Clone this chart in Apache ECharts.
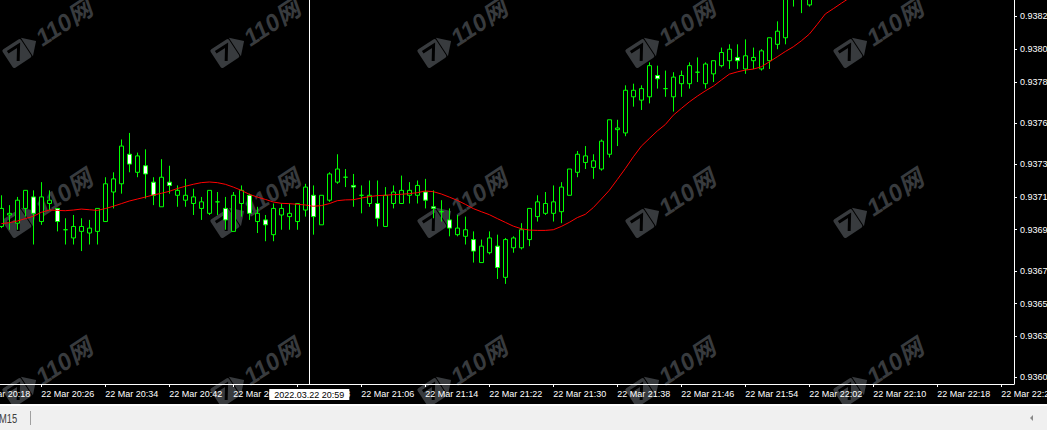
<!DOCTYPE html>
<html>
<head>
<meta charset="utf-8">
<script src="https://cdn.jsdelivr.net/npm/echarts@6/dist/echarts.min.js"></script>
<style>
html,body{margin:0;padding:0;background:#000;overflow:hidden}
#c{width:1047px;height:430px}
</style>
</head>
<body>
<div id="c"></div>
<script>
// ---- data (1-minute candles starting 22 Mar 20:21) ----
// each candle: [open, close, low, high]
const candles = [
[0.93692,0.93703,0.93691,0.93711],[0.93699,0.93700,0.93690,0.93705],[0.93694,0.93708,0.93690,0.93710],
[0.93703,0.93714,0.93698,0.93714],[0.93710,0.93700,0.93681,0.93714],[0.93695,0.93710,0.93693,0.93719],
[0.93706,0.93708,0.93702,0.93714],[0.93703,0.93695,0.93689,0.93703],[0.93690,0.93690,0.93681,0.93697],
[0.93685,0.93692,0.93681,0.93699],[0.93689,0.93692,0.93677,0.93697],[0.93688,0.93691,0.93681,0.93696],
[0.93689,0.93703,0.93681,0.93703],[0.93695,0.93718,0.93695,0.93722],[0.93713,0.93721,0.93703,0.93725],
[0.93718,0.93741,0.93712,0.93745],[0.93736,0.93730,0.93725,0.93749],[0.93725,0.93735,0.93722,0.93737],
[0.93729,0.93724,0.93709,0.93739],[0.93719,0.93711,0.93705,0.93722],[0.93704,0.93722,0.93704,0.93733],
[0.93719,0.93717,0.93712,0.93729],[0.93711,0.93714,0.93704,0.93717],[0.93708,0.93711,0.93704,0.93721],
[0.93706,0.93710,0.93699,0.93715],[0.93703,0.93707,0.93696,0.93710],[0.93700,0.93714,0.93699,0.93714],
[0.93707,0.93707,0.93699,0.93713],[0.93703,0.93696,0.93690,0.93710],[0.93689,0.93711,0.93689,0.93713],
[0.93706,0.93714,0.93698,0.93717],[0.93711,0.93700,0.93696,0.93712],[0.93695,0.93700,0.93688,0.93704],
[0.93696,0.93693,0.93683,0.93699],[0.93687,0.93703,0.93683,0.93706],[0.93699,0.93703,0.93690,0.93706],
[0.93698,0.93700,0.93690,0.93706],[0.93695,0.93706,0.93690,0.93706],[0.93702,0.93716,0.93698,0.93718],
[0.93711,0.93698,0.93687,0.93717],[0.93693,0.93711,0.93693,0.93711],[0.93708,0.93724,0.93707,0.93725],
[0.93719,0.93727,0.93718,0.93736],[0.93722,0.93722,0.93716,0.93727],[0.93717,0.93716,0.93704,0.93724],
[0.93711,0.93711,0.93700,0.93717],[0.93706,0.93711,0.93704,0.93720],[0.93706,0.93697,0.93692,0.93720],
[0.93692,0.93711,0.93692,0.93716],[0.93706,0.93713,0.93703,0.93717],[0.93706,0.93714,0.93706,0.93723],
[0.93711,0.93714,0.93706,0.93719],[0.93711,0.93717,0.93706,0.93720],[0.93713,0.93708,0.93703,0.93721],
[0.93704,0.93703,0.93697,0.93714],[0.93701,0.93701,0.93695,0.93708],[0.93696,0.93691,0.93686,0.93703],
[0.93687,0.93691,0.93686,0.93699],[0.93686,0.93690,0.93681,0.93698],[0.93684,0.93677,0.93670,0.93689],
[0.93670,0.93680,0.93670,0.93684],[0.93676,0.93685,0.93675,0.93689],[0.93680,0.93667,0.93660,0.93687],
[0.93661,0.93684,0.93657,0.93685],[0.93679,0.93685,0.93676,0.93686],[0.93679,0.93690,0.93678,0.93694],
[0.93684,0.93703,0.93680,0.93703],[0.93698,0.93707,0.93695,0.93711],[0.93700,0.93706,0.93699,0.93713],
[0.93700,0.93707,0.93695,0.93717],[0.93701,0.93716,0.93694,0.93719],[0.93711,0.93727,0.93711,0.93727],
[0.93725,0.93736,0.93722,0.93738],[0.93731,0.93735,0.93727,0.93741],[0.93728,0.93732,0.93721,0.93736],
[0.93727,0.93744,0.93726,0.93745],[0.93736,0.93757,0.93734,0.93757],[0.93751,0.93752,0.93741,0.93757],
[0.93749,0.93775,0.93747,0.93778],[0.93771,0.93775,0.93765,0.93779],[0.93769,0.93776,0.93763,0.93778],
[0.93771,0.93790,0.93767,0.93792],[0.93784,0.93782,0.93776,0.93790],[0.93776,0.93776,0.93771,0.93787],
[0.93771,0.93783,0.93762,0.93786],[0.93779,0.93784,0.93771,0.93787],[0.93779,0.93790,0.93776,0.93792],
[0.93786,0.93786,0.93780,0.93795],[0.93779,0.93791,0.93776,0.93792],[0.93785,0.93793,0.93780,0.93793],
[0.93790,0.93798,0.93789,0.93801],[0.93793,0.93800,0.93788,0.93803],[0.93795,0.93793,0.93788,0.93803],
[0.93788,0.93796,0.93785,0.93806],[0.93793,0.93795,0.93788,0.93801],[0.93788,0.93799,0.93787,0.93800],
[0.93793,0.93807,0.93788,0.93807],[0.93803,0.93811,0.93800,0.93817],[0.93807,0.93840,0.93803,0.93845],
[0.93838,0.93834,0.93826,0.93846],[0.93834,0.93840,0.93822,0.93843],[0.93827,0.93836,0.93826,0.93840],
[0.93836,0.93845,0.93832,0.93850],[0.93845,0.93852,0.93840,0.93858],[0.93852,0.93858,0.93848,0.93862],
[0.93858,0.93865,0.93854,0.93870],[0.93865,0.93870,0.93860,0.93875]
];

// moving average (red line), one value per candle
const maValues = [
0.936937,0.936943,0.936953,0.936968,0.936982,0.937006,0.937020,0.937018,0.937016,0.937020,
0.937026,0.937022,0.937018,0.937029,0.937043,0.937059,0.937075,0.937087,0.937099,0.937112,
0.937122,0.937134,0.937151,0.937165,0.937177,0.937187,0.937191,0.937187,0.937177,0.937160,
0.937140,0.937116,0.937099,0.937085,0.937069,0.937061,0.937059,0.937055,0.937051,0.937043,
0.937047,0.937059,0.937077,0.937082,0.937083,0.937093,0.937102,0.937108,0.937110,0.937114,
0.937116,0.937120,0.937126,0.937136,0.937132,0.937118,0.937099,0.937079,0.937055,0.937029,
0.937010,0.936992,0.936968,0.936945,0.936922,0.936906,0.936898,0.936896,0.936896,0.936900,
0.936920,0.936945,0.936974,0.936994,0.937035,0.937087,0.937140,0.937206,0.937273,0.937344,
0.937409,0.937456,0.937502,0.937541,0.937598,0.937639,0.937679,0.937714,0.937746,0.937775,
0.937812,0.937848,0.937862,0.937873,0.937879,0.937893,0.937923,0.937954,0.937986,0.938015,
0.938051,0.938092,0.938152,0.938215,0.938247,0.938280,0.938312
];

// time axis ticks: candle index -> label
const xTickIndex = [-3,5,13,21,29,37,45,53,61,69,77,85,93,101,109,117,125];
const xTickLabels = ['22 Mar 20:18','22 Mar 20:26','22 Mar 20:34','22 Mar 20:42','22 Mar 20:50',
  '22 Mar 20:58','22 Mar 21:06','22 Mar 21:14','22 Mar 21:22','22 Mar 21:30','22 Mar 21:38',
  '22 Mar 21:46','22 Mar 21:54','22 Mar 22:02','22 Mar 22:10','22 Mar 22:18','22 Mar 22:26'];

// price axis ticks
const yTickValues = [0.9382,0.9380,0.9378,0.93755,0.9373,0.9371,0.9369,0.93665,0.93645,0.93625,0.9360];
const yTickLabels = ['0.9382','0.9380','0.9378','0.9376','0.9373','0.9371','0.9369','0.9367','0.9365','0.9363','0.9360'];

// crosshair
const crossIndex = 38.5;
const crossPrice = 0.93737;
const crossTimeLabel = '2022.03.22 20:59';
const crossPriceLabel = '0.9374';
const periodLabel = 'M15';
const watermarkText = '110网';

// ---- chart ----
const FONT = '"Liberation Sans", Arial, sans-serif';
const chart = echarts.init(document.getElementById('c'), null, {renderer: 'svg', width: 1047, height: 430});

function nearestLabel(vals, labels, v) {
  let best = 0;
  for (let i = 1; i < vals.length; i++) {
    if (Math.abs(vals[i] - v) < Math.abs(vals[best] - v)) best = i;
  }
  return labels[best];
}

const candleData = candles.map((c, i) => [i, c[0], c[1], c[2], c[3]]);
const maData = maValues.map((v, i) => [i, v]);

const wmCols = [50, 258, 465, 673, 881];
const wmRows = [33, 203, 372];
const wmColor = '#383b3e';
const graphics = [];
wmRows.forEach(cy => wmCols.forEach(cx => {
  graphics.push({
    type: 'group', x: cx, y: cy, rotation: 0.58, silent: true, z: 0,
    children: [
      {type: 'rect', shape: {x: -50, y: -12, width: 22, height: 22, r: 2}, style: {fill: wmColor}},
      {type: 'polyline', shape: {points: [[-46, -7], [-33, -7], [-42, 6]]}, style: {stroke: '#000', lineWidth: 3, fill: null}},
      {type: 'polygon', shape: {points: [[-27, -12], [-16, -1], [-27, 10]]}, style: {fill: wmColor}},
      {type: 'text', x: -14, y: 11, style: {text: watermarkText, fill: wmColor,
        font: 'italic bold 24px "Liberation Sans", "Noto Sans CJK SC", sans-serif', verticalAlign: 'bottom'}}
    ]
  });
}));
graphics.push(
  {type: 'rect', silent: true, shape: {x: 0, y: 404, width: 1047, height: 2}, style: {fill: '#ffffff'}},
  {type: 'rect', silent: true, shape: {x: 0, y: 406, width: 1047, height: 24}, style: {fill: '#f0f0f0'}},
  {type: 'line', silent: true, shape: {x1: 30.5, y1: 411, x2: 30.5, y2: 425}, style: {stroke: '#a0a0a0', lineWidth: 1}},
  {type: 'text', silent: true, x: -1, y: 418, scaleX: 0.72,
   style: {text: periodLabel, fill: '#404040', font: '13px ' + FONT, verticalAlign: 'middle'}},
  {type: 'polygon', silent: true, shape: {points: [[1033, 415], [1033, 421], [1030, 418]]}, style: {fill: '#8a8a8a'}}
);

chart.setOption({
  animation: false,
  backgroundColor: '#000000',
  grid: {left: -40, top: 0, width: 1054, height: 384, outerBoundsMode: 'none', containLabel: false},
  xAxis: {
    type: 'value', min: -5.1625, max: 126.5875,
    splitLine: {show: false},
    axisLine: {show: true, onZero: false, lineStyle: {color: '#ffffff', width: 1}},
    axisTick: {show: true, length: 3, customValues: xTickIndex, lineStyle: {color: '#ffffff'}},
    axisLabel: {show: true, customValues: xTickIndex, align: 'left', margin: 5,
      color: '#ffffff', fontFamily: FONT, fontSize: 9,
      formatter: v => nearestLabel(xTickIndex, xTickLabels, v)}
  },
  yAxis: {
    type: 'value', position: 'right', min: 0.93596, max: 0.93830, scale: true,
    splitLine: {show: false},
    axisLine: {show: true, onZero: false, lineStyle: {color: '#ffffff', width: 1}},
    axisTick: {show: true, length: 3, customValues: yTickValues, lineStyle: {color: '#ffffff'}},
    axisLabel: {show: true, customValues: yTickValues, margin: 6,
      color: '#ffffff', fontFamily: FONT, fontSize: 9,
      formatter: v => nearestLabel(yTickValues, yTickLabels, v)}
  },
  graphic: graphics,
  series: [
    {
      type: 'candlestick', data: candleData, barWidth: 4, clip: true,
      encode: {x: 0, y: [1, 2, 3, 4]},
      itemStyle: {color: '#000000', color0: '#ffffff', borderColor: '#00ff00', borderColor0: '#00ff00', borderWidth: 1},
      emphasis: {disabled: true}
    },
    {
      type: 'line', data: maData, showSymbol: false, symbol: 'none', clip: true,
      lineStyle: {color: '#ff0000', width: 1}, emphasis: {disabled: true}, silent: true
    },
    {
      type: 'line', data: [], clip: false, silent: true,
      markLine: {
        symbol: 'none', silent: true, animation: false,
        lineStyle: {color: '#ffffff', type: 'solid', width: 1},
        data: [
          {xAxis: crossIndex, label: {show: true, position: 'start', formatter: crossTimeLabel,
            backgroundColor: '#ffffff', color: '#000000', padding: [1, 5, 0, 5], distance: 5,
            fontFamily: FONT, fontSize: 9, lineHeight: 10}},
          {yAxis: crossPrice, label: {show: true, position: 'end', formatter: crossPriceLabel,
            backgroundColor: '#ffffff', color: '#000000', padding: [0, 3, 0, 2], distance: 1,
            fontFamily: FONT, fontSize: 9, lineHeight: 10}}
        ]
      }
    }
  ]
});
</script>
</body>
</html>
